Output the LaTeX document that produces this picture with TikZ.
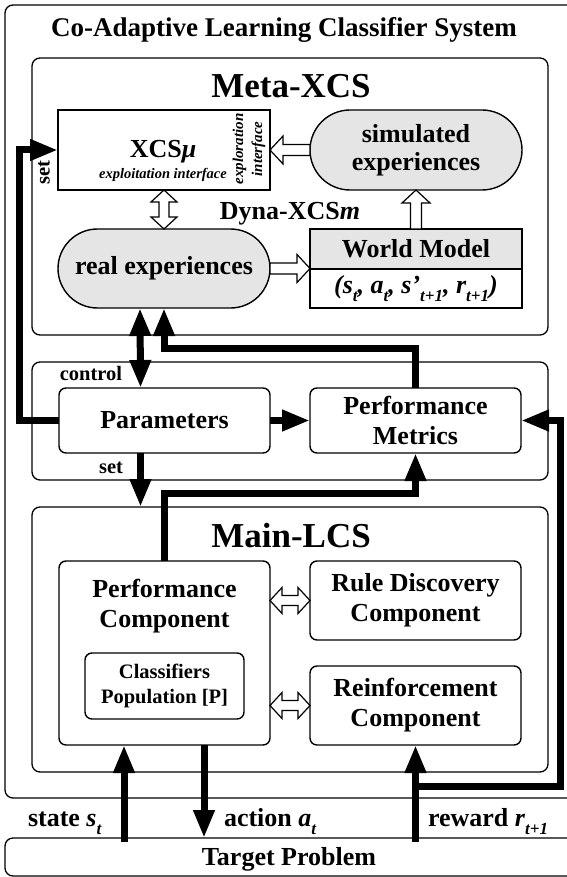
\documentclass[tikz,border=0pt]{standalone}
\usepackage{fontspec}
\setmainfont{Liberation Serif}
\usetikzlibrary{arrows.meta,calc,shapes.misc}
\definecolor{lgray}{RGB}{229,229,229}
\newcommand\sbs[1]{\raisebox{-0.33em}{\fontsize{17}{17}\selectfont\itshape #1}}
\begin{document}
\begin{tikzpicture}[x=1pt,y=-1pt,line join=miter,
  every node/.style={inner sep=0pt,outer sep=0pt},
  big/.style={font=\bfseries\fontsize{26}{30}\selectfont,align=center},
  frame/.style={draw,line width=1.3pt,rounded corners=8pt,anchor=north west},
  rbox/.style={draw,line width=1.4pt,rounded corners=7pt,fill=white,anchor=north west,big},
  sbox/.style={draw,line width=1.4pt,fill=white,anchor=north west,big},
  pill/.style={rounded rectangle,draw,line width=1.4pt,fill=lgray,big},
  flow/.style={line width=7pt,-{Triangle[length=28pt,width=20pt]}},
  flowboth/.style={line width=7pt,{Triangle[length=28pt,width=20pt]}-{Triangle[length=28pt,width=20pt]}},
  hollow/.style={draw,fill=white,line width=1.2pt,to path={
    let \p1=(\tikztostart),\p2=(\tikztotarget),\n1={atan2(\y2-\y1,\x2-\x1)} in
    -- ($(\p1)+(\n1+90:5.5pt)$)
    -- ($(\p2)+(\n1:-13pt)+(\n1+90:5.5pt)$)
    -- ($(\p2)+(\n1:-13pt)+(\n1+90:14pt)$)
    -- (\p2)
    -- ($(\p2)+(\n1:-13pt)+(\n1-90:14pt)$)
    -- ($(\p2)+(\n1:-13pt)+(\n1-90:5.5pt)$)
    -- ($(\p1)+(\n1-90:5.5pt)$) -- cycle}},
  hollowboth/.style={draw,fill=white,line width=1.2pt,to path={
    let \p1=(\tikztostart),\p2=(\tikztotarget),\n1={atan2(\y2-\y1,\x2-\x1)} in
    -- ($(\p1)+(\n1:12pt)+(\n1+90:13pt)$)
    -- ($(\p1)+(\n1:12pt)+(\n1+90:5pt)$)
    -- ($(\p2)+(\n1:-12pt)+(\n1+90:5pt)$)
    -- ($(\p2)+(\n1:-12pt)+(\n1+90:13pt)$)
    -- (\p2)
    -- ($(\p2)+(\n1:-12pt)+(\n1-90:13pt)$)
    -- ($(\p2)+(\n1:-12pt)+(\n1-90:5pt)$)
    -- ($(\p1)+(\n1:12pt)+(\n1-90:5pt)$)
    -- ($(\p1)+(\n1:12pt)+(\n1-90:13pt)$) -- cycle}}
]
\useasboundingbox (0,0) rectangle (566,877);
\fill[white] (0,0) rectangle (566,877);

% frames
\node[frame,minimum width=575pt,minimum height=793pt] (outer) at (5,5) {};
\node[frame,minimum width=575pt,minimum height=38pt] (target) at (5,838) {};
\node[frame,minimum width=516pt,minimum height=277pt] (meta) at (32,58) {};
\node[frame,minimum width=516pt,minimum height=118pt] (ctrl) at (32,362) {};
\node[frame,minimum width=516pt,minimum height=265pt] (main) at (32,507) {};

% titles
\node[font=\bfseries\fontsize{27}{30}\selectfont,anchor=base] (title) at (284,37) {Co-Adaptive Learning Classifier System};
\node[font=\bfseries\fontsize{35}{40}\selectfont,anchor=base] (metat) at (291,98) {Meta-XCS};
\node[font=\bfseries\fontsize{35}{40}\selectfont,anchor=base] (maint) at (291,547) {Main-LCS};
\node[big,anchor=base] (targett) at (289,865) {Target Problem};

% Meta-XCS content
\node[sbox,minimum width=212pt,minimum height=80pt] (xcs) at (58,110) {};
\node[big,anchor=base] (xcst) at (163,158) {XCS\textit{μ}};
\node[font=\bfseries\itshape\fontsize{14.5}{19}\selectfont,anchor=base] (xploit) at (163,179) {exploitation interface};
\node[font=\bfseries\itshape\fontsize{15}{19}\selectfont,align=center,rotate=90] (xplor) at (249,149) {exploration\\interface};
\node[font=\bfseries\fontsize{20.5}{24}\selectfont,rotate=90] (setl) at (44,173) {set};
\node[pill,minimum width=212pt,minimum height=80pt,font=\bfseries\fontsize{26}{28}\selectfont] (sim) at (416,150) {simulated\\experiences};
\node[pill,minimum width=212pt,minimum height=79pt] (real) at (164,268.5) {real experiences};
\node[big,anchor=base] (dyna) at (290,220) {Dyna-XCS\textit{m}};
\node[sbox,fill=lgray,minimum width=212pt,minimum height=40pt] (wmh) at (310,229) {World Model};
\node[sbox,minimum width=212pt,minimum height=39pt] (wmb) at (310,269) {\textit{(s\sbs{t}, a\sbs{t}, s'\sbs{t+1}, r\sbs{t+1})}};

% control layer
\node[rbox,minimum width=211pt,minimum height=65pt] (params) at (59,388) {Parameters};
\node[rbox,minimum width=211pt,minimum height=65pt] (pm) at (310,388) {Performance\\Metrics};
\node[font=\bfseries\fontsize{20.5}{24}\selectfont,anchor=base] (ctrll) at (91,380) {control};
\node[font=\bfseries\fontsize{20.5}{24}\selectfont,anchor=base] (setl2) at (111,473) {set};

% Main-LCS content
\node[rbox,minimum width=211pt,minimum height=184pt] (perf) at (59,561) {};
\node[big] (perft) at (164.5,606) {Performance\\Component};
\node[rbox,minimum width=159pt,minimum height=66pt,font=\bfseries\fontsize{20.5}{25}\selectfont,align=center] (cls) at (85,653) {Classifiers\\Population [P]};
\node[rbox,minimum width=211pt,minimum height=79pt] (rule) at (310,561) {Rule Discovery\\Component};
\node[rbox,minimum width=211pt,minimum height=79pt] (reinf) at (310,666) {Reinforcement\\Component};

% bottom labels
\node[big,anchor=base west] (statel) at (28,826) {state \textit{s}\sbs{t}};
\node[big,anchor=base west] (actionl) at (224,826) {action \textit{a}\sbs{t}};
\node[big,anchor=base west] (rewardl) at (428,826) {reward \textit{r}\sbs{t+1}};

% hollow arrows
\draw[hollow] (sim.west) to (xcs.east);
\draw[hollowboth] (xcs.south) to (real.north);
\draw[hollow] (real.east) to (real.east -| wmb.west);
\draw[hollow] (wmh.north) to (sim.south);
\draw[hollowboth] (perf.east |- rule.west) to (rule.west);
\draw[hollowboth] (perf.east |- reinf.west) to (reinf.west);

% thick connectors
\coordinate (sBot) at (124,842);
\coordinate (aBot) at (204,838);
\coordinate (rBot) at (415.5,842);
\coordinate (rBr) at (415.5,786);
\draw[flowboth] ([xshift=-24pt]real.south) -- ([xshift=-24pt]params.north);
\draw[flow] (pm.north) -- ++(0,-40) -| (real.south);
\draw[flow] (params.west) -- ++(-40,0) |- (xcs.west);
\draw[flow] (params.east) -- (pm.west);
\draw[flow] ([xshift=-24pt]params.south) -- ([xshift=-24pt]params.south |- main.north);
\draw[flow] (perf.north) -- ++(0,-68) -| (pm.south);
\draw[flow] (sBot) -- (sBot |- perf.south);
\draw[flow] (aBot |- perf.south) -- (aBot);
\draw[flow] (rBot) -- (reinf.south);
\draw[flow] (rBr) -- ++(144.5,0) |- (pm.east);
\end{tikzpicture}
\end{document}
